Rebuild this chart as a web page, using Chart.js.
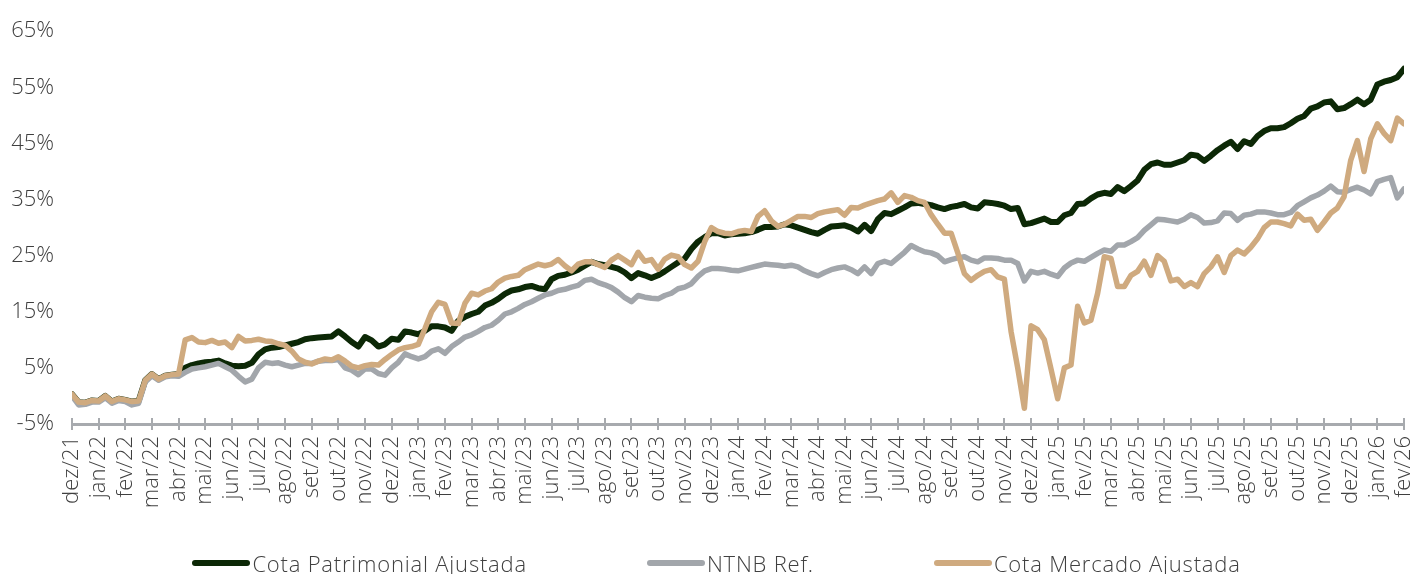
<!DOCTYPE html>
<html lang="pt-BR">
<head>
<meta charset="utf-8">
<title>Cota Patrimonial x NTNB x Cota Mercado</title>
<script src="https://cdn.jsdelivr.net/npm/chart.js@4.4.1/dist/chart.umd.min.js"></script>
<style>
  html, body { margin: 0; padding: 0; background: #fff; }
  #wrap { position: relative; width: 1416px; height: 574px; overflow: hidden; }
  #legend {
    position: absolute; left: 17px; right: 0; top: 549px;
    display: flex; justify-content: center; gap: 120px;
    font: 300 22px "Open Sans", sans-serif; line-height: 28px; letter-spacing: 0.8px; color: #404040;
  }
  #legend .item { display: flex; align-items: center; white-space: nowrap; }
  #legend .item i { display: inline-block; width: 58px; height: 6px; border-radius: 3px; margin-right: 2px; }
</style>
</head>
<body>
<div id="wrap">
  <canvas id="chart"></canvas>
  <div id="legend"></div>
</div>
<script>
// eixo x: meses (um rótulo por mês), pontos a cada 1/4 de mês
const months = ['dez/21', 'jan/22', 'fev/22', 'mar/22', 'abr/22', 'mai/22', 'jun/22', 'jul/22', 'ago/22', 'set/22', 'out/22', 'nov/22', 'dez/22',
    'jan/23', 'fev/23', 'mar/23', 'abr/23', 'mai/23', 'jun/23', 'jul/23', 'ago/23', 'set/23', 'out/23', 'nov/23', 'dez/23',
    'jan/24', 'fev/24', 'mar/24', 'abr/24', 'mai/24', 'jun/24', 'jul/24', 'ago/24', 'set/24', 'out/24', 'nov/24', 'dez/24',
    'jan/25', 'fev/25', 'mar/25', 'abr/25', 'mai/25', 'jun/25', 'jul/25', 'ago/25', 'set/25', 'out/25', 'nov/25', 'dez/25',
    'jan/26', 'fev/26'];
const pointsPerMonth = 4;
const yTicks = [-5, 5, 15, 25, 35, 45, 55, 65];

const seriesNames = ['Cota Patrimonial Ajustada', 'NTNB Ref.', 'Cota Mercado Ajustada'];

// valores em %
const cotaPatrimonial = [
    0.3, -1.1, -1.2, -0.8, -0.9, 0.0, -1.0, -0.5, -0.7, -1.0, -0.9, 2.8, 3.9, 3.0, 3.6, 3.8, 3.9,
    5.0, 5.5, 5.8, 6.0, 6.1, 6.3, 5.8, 5.4, 5.3, 5.4, 5.9, 7.4, 8.3, 8.6, 8.7, 9.0,
    9.3, 9.6, 10.1, 10.3, 10.4, 10.5, 10.6, 11.5, 10.6, 9.6, 8.8, 10.5, 9.9, 8.8, 9.2, 10.2,
    10.0, 11.5, 11.3, 11.0, 11.6, 12.4, 12.4, 12.2, 11.6, 13.4, 14.1, 14.6, 15.0, 16.1, 16.6, 17.3,
    18.2, 18.8, 19.0, 19.4, 19.6, 19.2, 19.0, 20.8, 21.4, 21.6, 22.0, 22.5, 23.2, 23.9, 23.5, 23.3,
    23.0, 22.7, 22.0, 21.0, 21.9, 21.5, 21.0, 21.5, 22.2, 23.0, 23.8, 24.5, 26.2, 27.5, 28.3, 29.0,
    29.0, 28.6, 28.8, 28.9, 29.0, 29.2, 29.6, 30.1, 30.1, 30.2, 30.6, 30.4, 30.0, 29.6, 29.2, 28.9,
    29.6, 30.2, 30.3, 30.4, 30.0, 29.3, 30.5, 29.4, 31.5, 32.6, 32.4, 33.0, 33.6, 34.3, 34.4, 34.2,
    34.0, 33.6, 33.3, 33.7, 33.9, 34.2, 33.6, 33.4, 34.5, 34.4, 34.2, 33.9, 33.3, 33.5, 30.6, 30.8,
    31.2, 31.6, 31.0, 31.0, 32.2, 32.6, 34.2, 34.3, 35.2, 35.9, 36.2, 36.0, 37.2, 36.5, 37.4, 38.4,
    40.3, 41.3, 41.6, 41.2, 41.2, 41.6, 42.0, 43.0, 42.8, 41.9, 42.8, 43.8, 44.6, 45.3, 44.0, 45.4,
    44.9, 46.3, 47.2, 47.7, 47.7, 47.9, 48.6, 49.4, 49.9, 51.2, 51.6, 52.3, 52.5, 51.1, 51.3, 52.0,
    52.8, 52.0, 52.8, 55.5, 56.0, 56.3, 56.8, 58.3
];

const ntnbRef = [
    0.0, -1.6, -1.5, -1.1, -1.1, -0.3, -1.3, -0.8, -1.0, -1.6, -1.3, 2.5, 3.6, 2.8, 3.4, 3.6, 3.5,
    4.2, 4.8, 5.0, 5.2, 5.5, 5.8, 5.2, 4.6, 3.5, 2.5, 3.0, 5.0, 6.0, 5.8, 5.9, 5.5,
    5.2, 5.5, 5.8, 5.8, 6.2, 6.3, 6.3, 6.5, 5.0, 4.6, 3.8, 4.8, 4.8, 4.0, 3.7, 5.0,
    6.0, 7.5, 7.0, 6.6, 7.0, 8.0, 8.4, 7.6, 8.8, 9.6, 10.5, 10.9, 11.5, 12.2, 12.6, 13.5,
    14.6, 15.0, 15.6, 16.3, 16.8, 17.4, 18.0, 18.3, 18.8, 19.0, 19.4, 19.7, 20.6, 20.8, 20.2, 19.8,
    19.3, 18.5, 17.5, 16.8, 17.9, 17.6, 17.4, 17.3, 17.9, 18.3, 19.1, 19.4, 20.0, 21.3, 22.3, 22.7,
    22.7, 22.6, 22.4, 22.3, 22.6, 22.9, 23.2, 23.5, 23.4, 23.3, 23.1, 23.3, 23.0, 22.3, 21.8, 21.4,
    22.0, 22.5, 22.8, 23.0, 22.5, 21.8, 23.0, 21.8, 23.6, 24.0, 23.6, 24.6, 25.6, 26.8, 26.2, 25.7,
    25.5, 25.0, 23.9, 24.3, 24.6, 24.8, 24.2, 23.9, 24.6, 24.6, 24.5, 24.2, 24.2, 23.6, 20.5, 22.2,
    21.9, 22.2, 21.7, 21.3, 22.8, 23.7, 24.2, 24.0, 24.7, 25.4, 26.0, 25.8, 26.9, 26.9, 27.5, 28.2,
    29.5, 30.5, 31.5, 31.4, 31.2, 31.0, 31.5, 32.3, 31.8, 30.8, 30.9, 31.2, 32.6, 32.5, 31.3, 32.2,
    32.4, 32.8, 32.8, 32.6, 32.3, 32.3, 32.7, 33.9, 34.6, 35.3, 35.8, 36.5, 37.4, 36.4, 36.3, 36.8,
    37.2, 36.7, 36.0, 38.2, 38.6, 38.9, 35.3, 36.9
];

const cotaMercado = [
    0.3, -1.1, -1.2, -0.8, -0.9, 0.0, -1.0, -0.5, -0.7, -1.0, -0.9, 2.8, 3.9, 3.0, 3.6, 3.8, 3.9,
    10.0, 10.4, 9.6, 9.5, 9.9, 9.4, 9.6, 8.6, 10.6, 9.8, 9.9, 10.1, 9.8, 9.7, 9.3, 9.0,
    8.0, 6.6, 6.0, 5.7, 6.2, 6.6, 6.4, 7.0, 6.2, 5.3, 5.0, 5.4, 5.6, 5.5, 6.5, 7.4,
    8.2, 8.6, 8.8, 9.2, 12.0, 15.0, 16.7, 16.3, 13.0, 12.9, 16.5, 18.3, 18.0, 18.7, 19.1, 20.3,
    21.0, 21.3, 21.5, 22.5, 23.0, 23.5, 23.2, 23.5, 24.3, 23.2, 22.3, 23.5, 23.9, 23.9, 23.4, 22.9,
    24.2, 25.0, 24.2, 23.4, 25.6, 24.0, 24.3, 22.6, 24.4, 25.1, 24.8, 23.4, 22.8, 24.0, 27.5, 30.0,
    29.3, 29.0, 28.9, 29.3, 29.5, 29.3, 32.0, 33.0, 31.2, 30.2, 30.6, 31.3, 32.0, 32.0, 31.8, 32.5,
    32.8, 33.0, 33.2, 32.2, 33.6, 33.5, 34.0, 34.4, 34.8, 35.1, 36.2, 34.5, 35.7, 35.4, 34.8, 34.5,
    32.3, 30.6, 29.0, 29.0, 25.5, 21.8, 20.6, 21.5, 22.2, 22.5, 21.2, 20.8, 11.5, 5.0, -2.2, 12.5,
    11.8, 10.0, 4.8, -0.5, 5.0, 5.5, 16.0, 13.0, 13.5, 18.3, 24.8, 24.5, 19.5, 19.5, 21.5, 22.2,
    24.0, 21.5, 25.0, 24.0, 20.5, 20.8, 19.5, 20.2, 19.5, 21.8, 23.0, 24.8, 22.0, 25.0, 26.0, 25.3,
    26.5, 28.0, 30.0, 31.0, 31.0, 30.7, 30.3, 32.4, 31.3, 31.5, 29.5, 31.0, 32.6, 33.5, 35.5, 42.0,
    45.5, 40.0, 45.8, 48.5, 46.8, 45.5, 49.5, 48.5
];

const seriesColors = ['#0c2806', '#a2a6ab', '#cfaa7f'];
const seriesWidths = [6, 5.5, 5.5];
const axisColor = '#a7aaae';
const textColor = '#3f3f3f';
const fontFamily = '"Open Sans", Lato, sans-serif';

function toPoints(values) {
    return values.map((v, i) => ({ x: i / pointsPerMonth, y: v }));
}

// marcas do eixo x cruzando a linha (acima e abaixo)
const crossTicks = {
    id: 'crossTicks',
    afterDraw(chart) {
        const sx = chart.scales.x;
        const ctx = chart.ctx;
        ctx.save();
        ctx.strokeStyle = axisColor;
        ctx.lineWidth = 2;
        ctx.beginPath();
        sx.ticks.forEach(t => {
            const px = Math.round(sx.getPixelForValue(t.value));
            ctx.moveTo(px, sx.top - 6);
            ctx.lineTo(px, sx.top + 6);
        });
        ctx.stroke();
        ctx.restore();
    }
};

const datasets = [cotaPatrimonial, ntnbRef, cotaMercado].map((values, i) => ({
    label: seriesNames[i],
    data: toPoints(values),
    borderColor: seriesColors[i],
    backgroundColor: seriesColors[i],
    borderWidth: seriesWidths[i],
    pointRadius: 0,
    tension: 0,
    borderJoinStyle: 'round',
    borderCapStyle: 'round',
    order: 3 - i // mercado por cima
}));

const ctx = document.getElementById('chart').getContext('2d');
new Chart(ctx, {
    type: 'line',
    data: { datasets: datasets },
    options: {
        responsive: true,
        maintainAspectRatio: false,
        animation: false,
        layout: { padding: { top: 27, right: 0, bottom: 0, left: 0 } },
        scales: {
            x: {
                type: 'linear',
                min: 0,
                max: months.length - 1,
                afterBuildTicks: s => { s.ticks = months.map((_, i) => ({ value: i })); },
                afterFit: s => {
                    s.height = 150;
                    s.paddingLeft = 0;
                    s.paddingRight = 12;
                },
                ticks: {
                    autoSkip: false,
                    minRotation: 90,
                    maxRotation: 90,
                    padding: 12,
                    color: textColor,
                    font: { family: fontFamily, size: 22, weight: 300 },
                    callback: v => months[v]
                },
                grid: { display: false, drawTicks: false },
                border: { color: axisColor, width: 3 }
            },
            y: {
                min: yTicks[0],
                max: yTicks[yTicks.length - 1],
                afterBuildTicks: s => { s.ticks = yTicks.map(v => ({ value: v })); },
                afterFit: s => { s.width = 72; },
                ticks: {
                    padding: 18,
                    color: textColor,
                    font: { family: fontFamily, size: 22, weight: 300 },
                    callback: v => v + '%'
                },
                grid: { display: false, drawTicks: false },
                border: { display: false }
            }
        },
        plugins: {
            legend: { display: false },
            tooltip: { enabled: false }
        }
    },
    plugins: [crossTicks]
});

// legenda em HTML
const legend = document.getElementById('legend');
seriesNames.forEach((name, i) => {
    const item = document.createElement('span');
    item.className = 'item';
    const swatch = document.createElement('i');
    swatch.style.background = seriesColors[i];
    item.appendChild(swatch);
    item.appendChild(document.createTextNode(name));
    legend.appendChild(item);
});
</script>
</body>
</html>
